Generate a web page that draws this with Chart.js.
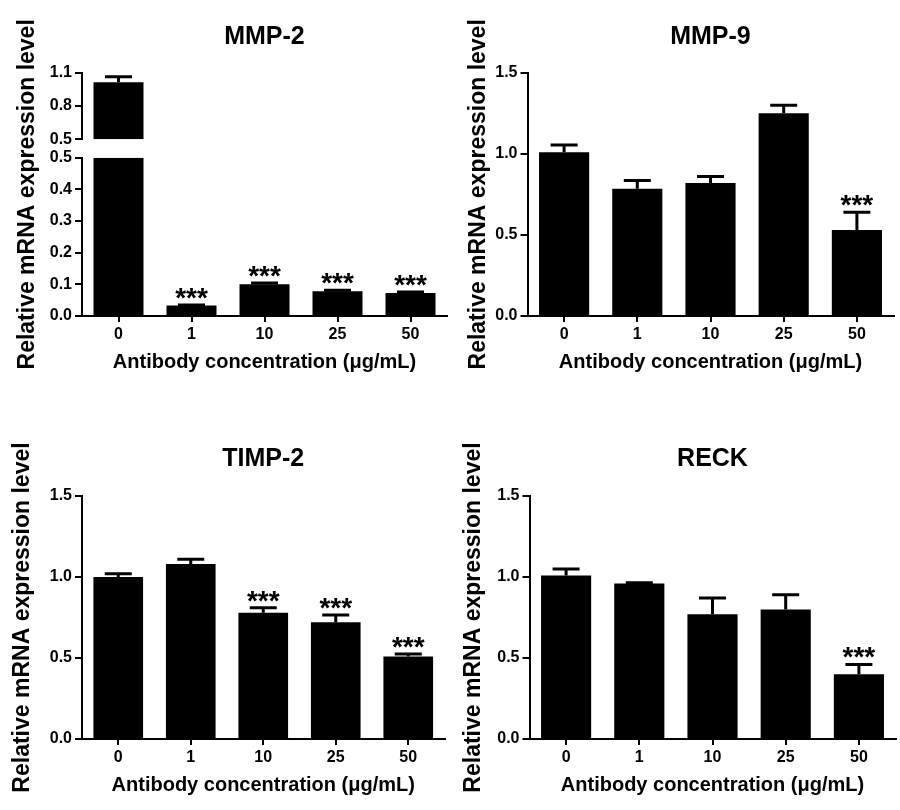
<!DOCTYPE html>
<html>
<head>
<meta charset="utf-8">
<script src="https://cdn.jsdelivr.net/npm/chart.js@4.4.1/dist/chart.umd.min.js"></script>
<style>
  html, body { margin: 0; padding: 0; background: #fff; }
  #page { position: relative; width: 900px; height: 810px; }
  #page canvas { position: absolute; }
</style>
</head>
<body>
<div id="page">
  <canvas id="mmp2" width="450" height="390" style="left:0;top:0"></canvas>
  <canvas id="mmp9" width="450" height="390" style="left:450px;top:0"></canvas>
  <canvas id="timp2" width="450" height="390" style="left:0;top:420px"></canvas>
  <canvas id="reck" width="450" height="390" style="left:450px;top:420px"></canvas>
</div>
<script>
// antibody doses (x categories)
const doses = ['0', '1', '10', '25', '50'];

// mean, upper SEM, significance (***) per dose
const mmp2Mean = [1.015, 0.033, 0.100, 0.078, 0.073];
const mmp2Err  = [0.048, 0.002, 0.004, 0.003, 0.003];
const mmp2Sig  = [false, true, true, true, true];

const mmp9Mean = [1.01, 0.785, 0.82, 1.25, 0.53];
const mmp9Err  = [0.045, 0.05, 0.04, 0.05, 0.11];
const mmp9Sig  = [false, false, false, false, true];

const timp2Mean = [1.00, 1.08, 0.78, 0.72, 0.51];
const timp2Err  = [0.02, 0.03, 0.03, 0.045, 0.015];
const timp2Sig  = [false, false, true, true, true];

const reckMean = [1.01, 0.96, 0.77, 0.80, 0.40];
const reckErr  = [0.04, 0.005, 0.10, 0.09, 0.06];
const reckSig  = [false, false, false, false, true];

// y tick values
const mainTicks = [0, 0.5, 1.0, 1.5];
const mmp2LowTicks = [0, 0.1, 0.2, 0.3, 0.4, 0.5];
const mmp2HighTicks = [0.5, 0.8, 1.1];

const FONT = '"Liberation Sans", Arial, Helvetica, sans-serif';
const W = 450, H = 390;
const yLabel = 'Relative mRNA expression level';
const xLabel = 'Antibody concentration (μg/mL)';

Chart.defaults.font.family = FONT;
Chart.defaults.color = '#000';

// clip each dataset to its own y scale (for the broken axis), then draw
// the upper error whisker and the *** marks
const barExtras = {
  id: 'barExtras',
  beforeDatasetDraw(chart, args) {
    const ys = args.meta.yScale, area = chart.chartArea, ctx = chart.ctx;
    ctx.save();
    ctx.beginPath();
    ctx.rect(area.left, ys.top, area.right - area.left, ys.bottom - ys.top);
    ctx.clip();
  },
  afterDatasetDraw(chart, args) {
    const ctx = chart.ctx;
    const ds = chart.data.datasets[args.index];
    const ys = args.meta.yScale;
    args.meta.data.forEach((bar, i) => {
      const top = ys.getPixelForValue(ds.data[i] + ds.err[i]);
      ctx.strokeStyle = '#000';
      ctx.lineWidth = 3;
      ctx.beginPath();
      ctx.moveTo(bar.x, bar.y);
      ctx.lineTo(bar.x, top);
      ctx.moveTo(bar.x - 13.5, top);
      ctx.lineTo(bar.x + 13.5, top);
      ctx.stroke();
      if (ds.sig[i]) {
        ctx.fillStyle = '#000';
        ctx.font = `bold 28px ${FONT}`;
        ctx.textAlign = 'center';
        ctx.textBaseline = 'alphabetic';
        ctx.fillText('***', bar.x, top + 2);
      }
    });
    ctx.restore();
  }
};

// rotated y title spanning the whole axis (both parts of the broken one)
const sideTitle = {
  id: 'sideTitle',
  afterDraw(chart, args, opts) {
    const { ctx, chartArea } = chart;
    ctx.save();
    ctx.translate(opts.x, (chartArea.top + chartArea.bottom) / 2);
    ctx.rotate(-Math.PI / 2);
    ctx.font = `bold 23px ${FONT}`;
    ctx.fillStyle = '#000';
    ctx.textAlign = 'center';
    ctx.textBaseline = 'middle';
    ctx.fillText(yLabel, 0, 0);
    ctx.restore();
  }
};

const tickFont = { size: 16, weight: 'bold' };

function yScale(frame, ticks, extra) {
  return Object.assign({
    type: 'linear',
    position: 'left',
    afterBuildTicks: s => { s.ticks = ticks.map(v => ({ value: v })); },
    grid: { drawOnChartArea: false, tickLength: 7, color: '#000', lineWidth: 2 },
    border: { color: '#000', width: 2 },
    ticks: { color: '#000', padding: 3, font: tickFont, callback: v => Number(v).toFixed(1) },
    afterFit: s => { s.width = frame.left; }
  }, extra);
}

function baseOptions(frame, title, yScales) {
  return {
    responsive: false,
    devicePixelRatio: 1,
    animation: false,
    layout: { padding: { left: 0, right: W - frame.right, top: 0, bottom: 0 } },
    plugins: {
      legend: { display: false },
      tooltip: { enabled: false },
      title: {
        display: true,
        text: title,
        fullSize: false,
        color: '#000',
        font: { size: 25, weight: 'bold' },
        padding: { top: frame.titleY - 15, bottom: frame.top - frame.titleY - 15 }
      },
      sideTitle: { x: frame.yLabelX }
    },
    scales: Object.assign({
      x: {
        type: 'category',
        offset: true,
        grid: { drawOnChartArea: false, offset: false, tickLength: 6, color: '#000', lineWidth: 2 },
        border: { color: '#000', width: 2 },
        ticks: { color: '#000', padding: 3, font: tickFont },
        title: {
          display: true,
          text: xLabel,
          color: '#000',
          font: { size: 20, weight: 'bold' },
          padding: { top: 0, bottom: H - frame.xTitleY - 12 }
        },
        afterFit: s => { s.height = H - frame.bottom; }
      }
    }, yScales)
  };
}

const barStyle = {
  backgroundColor: '#000',
  borderWidth: 0,
  barPercentage: 0.685,
  categoryPercentage: 1,
  grouped: false
};

function simplePanel(id, frame, title, mean, err, sig) {
  new Chart(document.getElementById(id), {
    type: 'bar',
    data: {
      labels: doses,
      datasets: [Object.assign({ data: mean, err: err, sig: sig, yAxisID: 'y' }, barStyle)]
    },
    options: baseOptions(frame, title, { y: yScale(frame, mainTicks, { min: 0, max: 1.5 }) }),
    plugins: [barExtras, sideTitle]
  });
}

// MMP-2: broken y axis built from stacked scales (low part, gap, high part)
const f1 = { left: 82, right: 447, top: 72.7, bottom: 316, titleY: 36.7, yLabelX: 27.5, xTitleY: 362.5 };
new Chart(document.getElementById('mmp2'), {
  type: 'bar',
  data: {
    labels: doses,
    datasets: [
      Object.assign({ data: mmp2Mean, err: mmp2Err, sig: mmp2Sig, yAxisID: 'yLow' }, barStyle),
      Object.assign({ data: mmp2Mean, err: mmp2Err, sig: mmp2Sig, yAxisID: 'yHigh' }, barStyle)
    ]
  },
  options: baseOptions(f1, 'MMP-2', {
    yLow: yScale(f1, mmp2LowTicks, { min: 0, max: 0.5, stack: 'mmp2', stackWeight: 158.3 }),
    yGap: { type: 'linear', position: 'left', stack: 'mmp2', stackWeight: 18.4, display: false },
    yHigh: yScale(f1, mmp2HighTicks, { min: 0.5, max: 1.1, stack: 'mmp2', stackWeight: 66.6 })
  }),
  plugins: [barExtras, sideTitle]
});

simplePanel('mmp9', { left: 77.5, right: 443.5, top: 72.7, bottom: 316, titleY: 36.7, yLabelX: 29, xTitleY: 362.5 },
  'MMP-9', mmp9Mean, mmp9Err, mmp9Sig);
simplePanel('timp2', { left: 82, right: 444.5, top: 76, bottom: 319, titleY: 39.2, yLabelX: 23, xTitleY: 365 },
  'TIMP-2', timp2Mean, timp2Err, timp2Sig);
simplePanel('reck', { left: 79.5, right: 445.5, top: 76, bottom: 319, titleY: 39.2, yLabelX: 23.3, xTitleY: 365 },
  'RECK', reckMean, reckErr, reckSig);
</script>
</body>
</html>
